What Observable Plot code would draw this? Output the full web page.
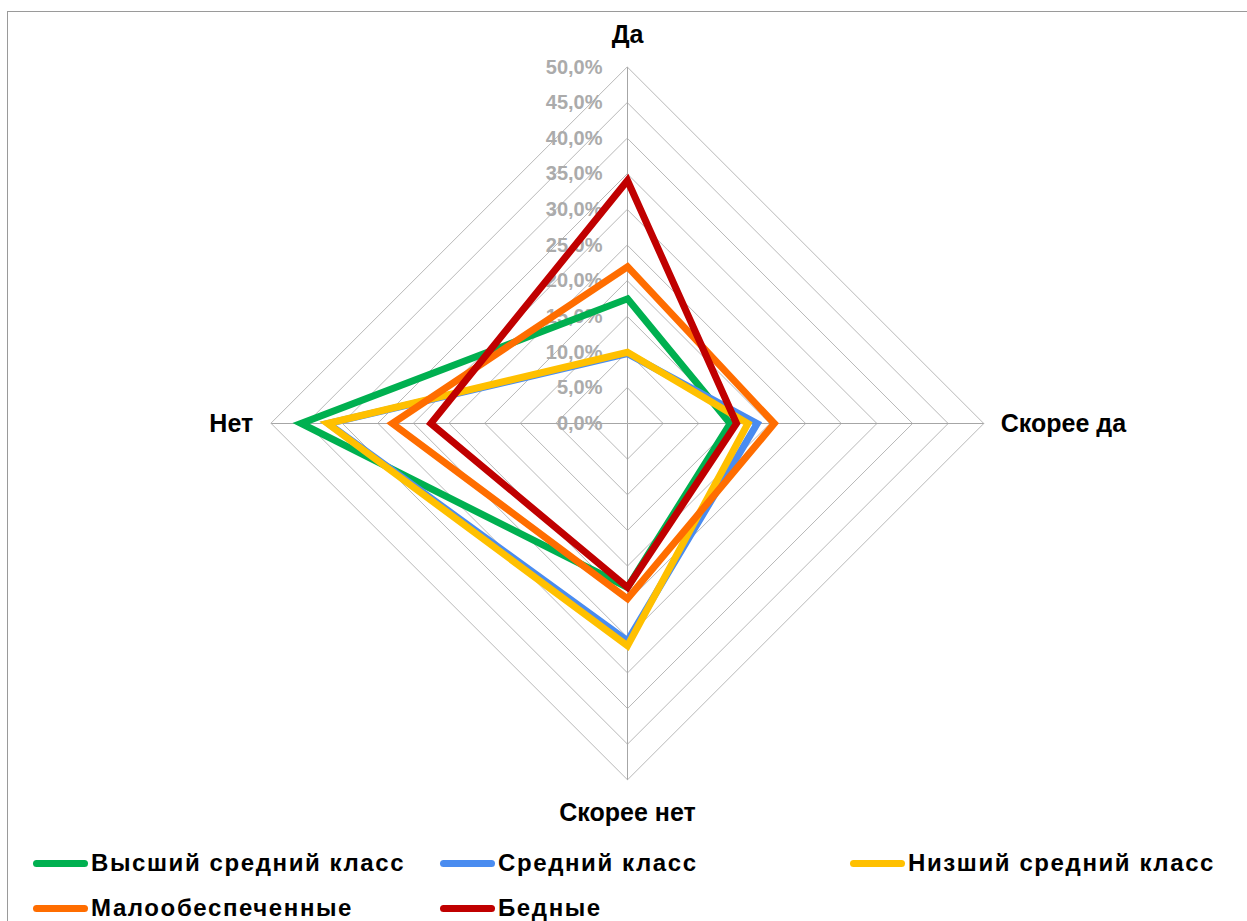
<!DOCTYPE html>
<html>
<head>
<meta charset="utf-8">
<script src="https://cdn.jsdelivr.net/npm/d3@7"></script>
<script src="https://cdn.jsdelivr.net/npm/@observablehq/plot@0.6"></script>
<style>
  html, body { margin: 0; padding: 0; background: #fff; width: 1247px; height: 921px; overflow: hidden; }
  #frame { position: absolute; left: 7px; top: 11px; width: 1400px; height: 1100px; border: 1.5px solid #9a9a9a; box-sizing: border-box; }
  #chart { position: absolute; left: 0; top: 0; }
  #legend { position: absolute; left: 0; top: 830px; width: 1247px; font-family: "Liberation Sans", Arial, sans-serif; font-weight: bold; font-size: 24px; letter-spacing: 1.6px; color: #000; }
  .item { position: absolute; display: flex; align-items: center; white-space: nowrap; transform: translateY(-50%); }
  .sw { width: 55px; height: 7px; border-radius: 3.5px; margin-right: 3px; }
</style>
</head>
<body>
<div id="frame"></div>
<div id="chart"></div>
<div id="legend"></div>
<script>
// Categories (clockwise from top)
const categories = ["Да", "Скорее да", "Скорее нет", "Нет"];
// Series names and colours
const seriesNames = ["Высший средний класс", "Средний класс", "Низший средний класс", "Малообеспеченные", "Бедные"];
const seriesColors = ["#00b050", "#4a8cf0", "#ffc000", "#ff6d00", "#c00000"];
// Values in % per category (Да, Скорее да, Скорее нет, Нет)
const vHigherMiddle = [17.5, 14.4, 23.0, 45.8];
const vMiddle       = [9.8, 18.2, 30.5, 42.0];
const vLowerMiddle  = [10.0, 16.9, 31.2, 42.1];
const vLowIncome    = [22.0, 20.6, 24.6, 33.0];
const vPoor         = [34.1, 15.3, 23.0, 27.6];
const seriesValues = [vHigherMiddle, vMiddle, vLowerMiddle, vLowIncome, vPoor];
// Radial ticks
const tickValues = [0, 5, 10, 15, 20, 25, 30, 35, 40, 45, 50];
const tickLabels = ["0,0%", "5,0%", "10,0%", "15,0%", "20,0%", "25,0%", "30,0%", "35,0%", "40,0%", "45,0%", "50,0%"];

const maxR = 50;
const angles = categories.map((c, i) => i * Math.PI / 2); // 0 = up, clockwise
const px = (r, a) => r * Math.sin(a);
const py = (r, a) => r * Math.cos(a);

// grid rings
const rings = [];
tickValues.filter(t => t > 0).forEach(t => {
  angles.forEach(a => rings.push({ring: t, x: px(t, a), y: py(t, a)}));
});
const spokes = angles.map((a, i) => ({x1: 0, y1: 0, x2: px(maxR, a), y2: py(maxR, a), cat: categories[i]}));

const seriesPts = [];
seriesNames.forEach((s, si) => {
  categories.forEach((c, ci) => {
    const v = seriesValues[si][ci];
    seriesPts.push({series: s, cat: c, value: v, x: px(v, angles[ci]), y: py(v, angles[ci])});
  });
});

const cx = 627, cy = 423, R = 356.3;
const font = '"Liberation Sans", Arial, sans-serif';

const catLabels = categories.map((c, i) => ({cat: c, x: px(maxR, angles[i]), y: py(maxR, angles[i]), i}));
const catStyle = {x: "x", y: "y", text: "cat", fontWeight: "bold", fontSize: 25, fill: "#000", fontFamily: font, letterSpacing: 1.6};

const plot = Plot.plot({
  width: 1247,
  height: 830,
  x: {domain: [-maxR, maxR], range: [cx - R, cx + R], axis: null},
  y: {domain: [-maxR, maxR], range: [cy + R, cy - R], axis: null},
  color: {domain: seriesNames, range: seriesColors},
  style: {background: "transparent", fontFamily: font, overflow: "visible"},
  marks: [
    Plot.line(rings, {x: "x", y: "y", z: "ring", curve: "linear-closed", stroke: "#b8b8b8", strokeWidth: 1}),
    Plot.link(spokes, {x1: "x1", y1: "y1", x2: "x2", y2: "y2", stroke: "#a6a6a6", strokeWidth: 1}),
    Plot.text(tickValues.map((t, i) => ({t, label: tickLabels[i]})), {
      x: 0, y: "t", text: "label", textAnchor: "end", dx: -25, fill: "#ababab",
      fontWeight: "bold", fontSize: 20, fontFamily: font, letterSpacing: 1
    }),
    Plot.line(seriesPts, {x: "x", y: "y", z: "series", stroke: "series", curve: "linear-closed",
      strokeWidth: 7, strokeLinejoin: "miter", strokeMiterlimit: 10}),
    Plot.text(catLabels.filter(d => d.i === 0), {...catStyle, dy: -32}),
    Plot.text(catLabels.filter(d => d.i === 1), {...catStyle, dx: 17, textAnchor: "start"}),
    Plot.text(catLabels.filter(d => d.i === 2), {...catStyle, dy: 33}),
    Plot.text(catLabels.filter(d => d.i === 3), {...catStyle, dx: -18, textAnchor: "end"})
  ]
});
document.getElementById("chart").appendChild(plot);

// Legend
const legendPos = [[33, 33], [440, 33], [850, 33], [33, 78], [440, 78]];
const legend = document.getElementById("legend");
seriesNames.forEach((s, i) => {
  const it = document.createElement("div");
  it.className = "item";
  it.style.left = legendPos[i][0] + "px";
  it.style.top = legendPos[i][1] + "px";
  const sw = document.createElement("div");
  sw.className = "sw";
  sw.style.background = seriesColors[i];
  const tx = document.createElement("span");
  tx.textContent = s;
  it.appendChild(sw);
  it.appendChild(tx);
  legend.appendChild(it);
});
</script>
</body>
</html>
